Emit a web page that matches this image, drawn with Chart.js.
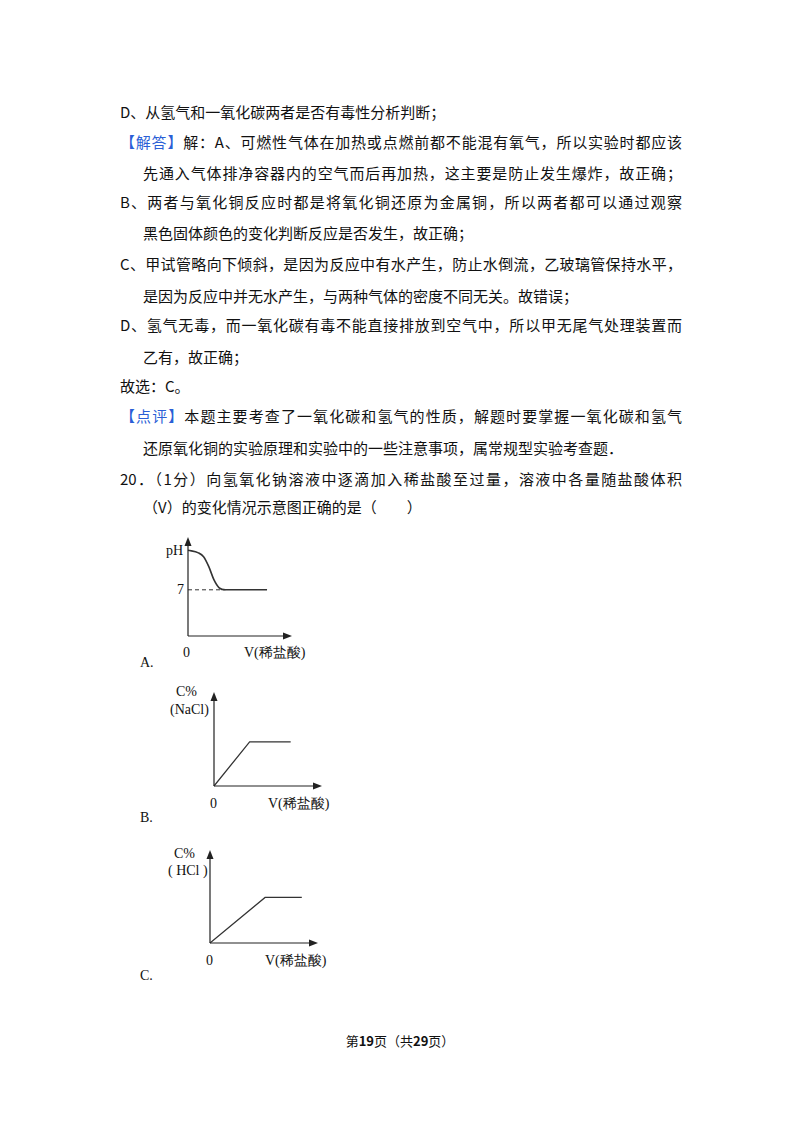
<!DOCTYPE html>
<html><head><meta charset="utf-8">
<script src="https://cdn.jsdelivr.net/npm/chart.js@4"></script>
<style>
body{margin:0;width:800px;height:1132px;background:#fff;position:relative;font-family:"Noto Sans CJK SC","DejaVu Serif",serif;color:#111;}
.l{position:absolute;font-size:15px;white-space:nowrap;line-height:20px;}
.j{text-align:justify;text-align-last:justify;}
.b{color:#2a5fd6;}
.s{position:absolute;font-family:"Liberation Serif",serif;font-size:14px;white-space:nowrap;line-height:16px;}
canvas{position:absolute;}
</style></head><body>
<div class="l" style="left:120px;top:102px">D、从氢气和一氧化碳两者是否有毒性分析判断；</div>
<div class="l j" style="left:120px;top:132px;width:562px"><span class="b">【解答】</span>解：A、可燃性气体在加热或点燃前都不能混有氧气，所以实验时都应该</div>
<div class="l j" style="left:143px;top:163px;width:539px">先通入气体排净容器内的空气而后再加热，这主要是防止发生爆炸，故正确；</div>
<div class="l j" style="left:120px;top:192px;width:562px">B、两者与氧化铜反应时都是将氧化铜还原为金属铜，所以两者都可以通过观察</div>
<div class="l" style="left:143px;top:223px">黑色固体颜色的变化判断反应是否发生，故正确；</div>
<div class="l j" style="left:120px;top:254px;width:562px">C、甲试管略向下倾斜，是因为反应中有水产生，防止水倒流，乙玻璃管保持水平，</div>
<div class="l" style="left:143px;top:286px">是因为反应中并无水产生，与两种气体的密度不同无关。故错误；</div>
<div class="l j" style="left:120px;top:315px;width:562px">D、氢气无毒，而一氧化碳有毒不能直接排放到空气中，所以甲无尾气处理装置而</div>
<div class="l" style="left:143px;top:347px">乙有，故正确；</div>
<div class="l" style="left:120px;top:376px">故选：C。</div>
<div class="l j" style="left:120px;top:406px;width:562px"><span class="b">【点评】</span>本题主要考查了一氧化碳和氢气的性质，解题时要掌握一氧化碳和氢气</div>
<div class="l" style="left:143px;top:438px">还原氧化铜的实验原理和实验中的一些注意事项，属常规型实验考查题．</div>
<div class="l j" style="left:120px;top:469px;width:562px">20．（1分）向氢氧化钠溶液中逐滴加入稀盐酸至过量，溶液中各量随盐酸体积</div>
<div class="l" style="left:143px;top:497px">（V）的变化情况示意图正确的是（　　）</div>

<div class="s" style="left:166px;top:543px">pH</div>
<div class="s" style="left:177px;top:582px">7</div>
<div class="s" style="left:183px;top:645px">0</div>
<div class="s" style="left:244px;top:645px">V(稀盐酸)</div>
<div class="s" style="left:140px;top:655px">A.</div>

<div class="s" style="left:176px;top:684px">C%</div>
<div class="s" style="left:170px;top:702px">(NaCl)</div>
<div class="s" style="left:210px;top:796px">0</div>
<div class="s" style="left:268px;top:796px">V(稀盐酸)</div>
<div class="s" style="left:140px;top:810px">B.</div>

<div class="s" style="left:174px;top:846px">C%</div>
<div class="s" style="left:168px;top:863px">( HCl )</div>
<div class="s" style="left:206px;top:953px">0</div>
<div class="s" style="left:265px;top:953px">V(稀盐酸)</div>
<div class="s" style="left:140px;top:968px">C.</div>

<div class="l" style="left:0;width:800px;text-align:center;top:1031px;font-size:13px">第<b>19</b>页（共<b>29</b>页）</div>

<canvas id="a" style="left:170px;top:530px;width:130px;height:115px" width="130" height="115"></canvas>
<canvas id="bb" style="left:196px;top:685px;width:134px;height:110px" width="134" height="110"></canvas>
<canvas id="c" style="left:192px;top:843px;width:134px;height:110px" width="134" height="110"></canvas>
<script>
const phX=[0,1,1.5,2,2.5,3,3.6,7.6];
const phY=[13,12.6,12,10.5,8.5,7.3,7,7];
const dashX=[0,3.6], dashY=[7,7];
const naclX=[0,3.3,7.1], naclY=[0,4.7,4.7];
const hclX=[0,5.1,8.5], hclY=[0,4.9,4.9];

const axes={id:'axes',afterDraw(ch){const c=ch.ctx,a=ch.chartArea;c.save();c.strokeStyle='#222';c.fillStyle='#222';c.lineWidth=1.2;
c.beginPath();c.moveTo(a.left,a.bottom);c.lineTo(a.right-6,a.bottom);c.moveTo(a.left,a.bottom);c.lineTo(a.left,a.top+6);c.stroke();
c.beginPath();c.moveTo(a.right,a.bottom);c.lineTo(a.right-9,a.bottom-3.5);c.lineTo(a.right-9,a.bottom+3.5);c.fill();
c.beginPath();c.moveTo(a.left,a.top);c.lineTo(a.left-3.5,a.top+9);c.lineTo(a.left+3.5,a.top+9);c.fill();c.restore();}};
function pts(xs,ys){return xs.map((x,i)=>({x,y:ys[i]}));}
function mk(id,sets,ymax,pad){new Chart(document.getElementById(id),{type:'line',
data:{datasets:sets},
options:{responsive:false,animation:false,layout:{padding:pad},plugins:{legend:{display:false},tooltip:{enabled:false}},
scales:{x:{type:'linear',min:0,max:10,display:false},y:{min:0,max:ymax,display:false}}},plugins:[axes]});}
const base={pointRadius:0,borderColor:'#333',fill:false,clip:false};
mk('a',[{...base,data:pts(phX,phY),borderWidth:1.6,cubicInterpolationMode:'monotone'},{...base,data:pts(dashX,dashY),borderWidth:1,borderDash:[4,3]}],15,{left:18,right:8,top:7,bottom:9});
mk('bb',[{...base,data:pts(naclX,naclY),borderWidth:1.2}],10,{left:18,right:8,top:7,bottom:9});
mk('c',[{...base,data:pts(hclX,hclY),borderWidth:1.2}],10,{left:18,right:8,top:7,bottom:10});
</script>
</body></html>
